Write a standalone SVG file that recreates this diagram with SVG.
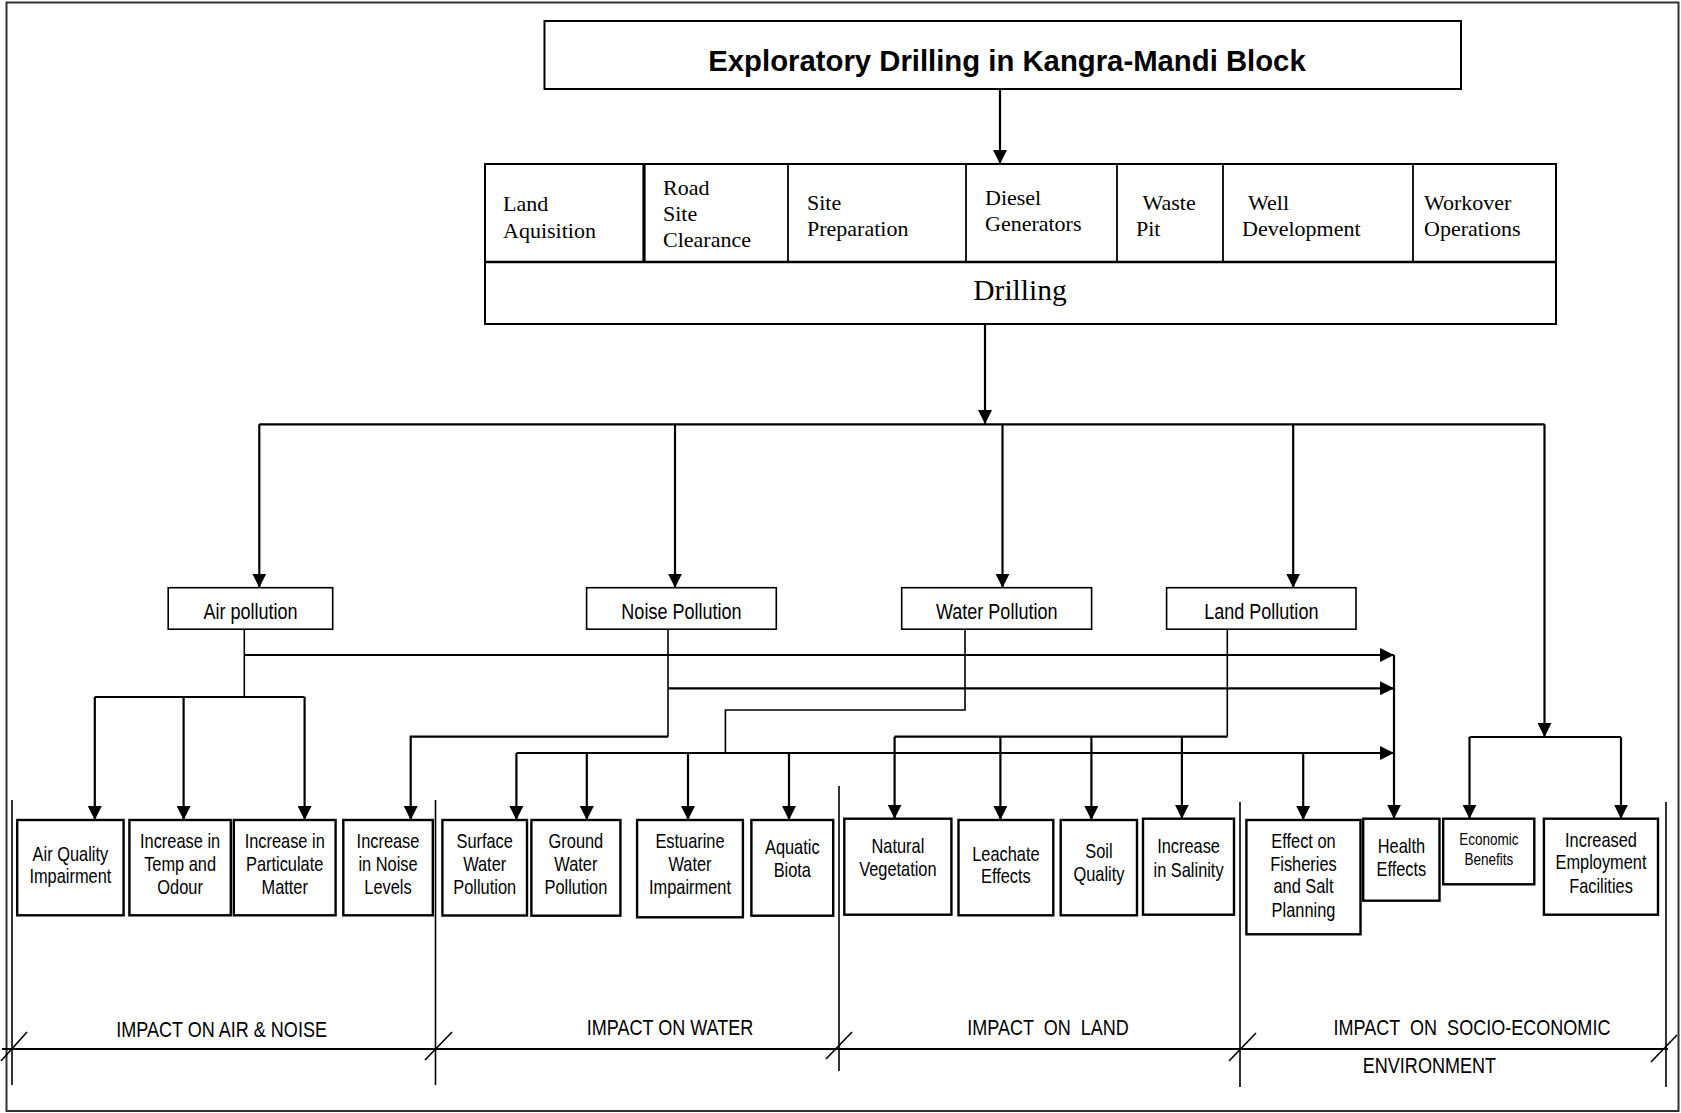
<svg xmlns="http://www.w3.org/2000/svg" width="1681" height="1113" viewBox="0 0 1681 1113">
  <style>
    .box { fill: #fff; stroke: #000; stroke-width: 2; }
    .pbox { fill: #fff; stroke: #000; stroke-width: 1.6; }
    .ibox { fill: #fff; stroke: #000; stroke-width: 2.4; }
    .sep { stroke: #000; stroke-width: 1.6; fill: none; }
    .wire { stroke: #000; stroke-width: 2.2; fill: none; }
    .stem { stroke: #000; stroke-width: 1.6; fill: none; }
    .arrow { marker-end: url(#head); }
    .title { font-family: "Liberation Sans", Arial, sans-serif; font-weight: bold; font-size: 29.3px; text-anchor: middle; }
    .serif { font-family: "Liberation Serif", "Times New Roman", serif; font-size: 22px; }
    .drill { font-family: "Liberation Serif", "Times New Roman", serif; font-size: 29.5px; text-anchor: middle; }
    .narrow { font-family: "Liberation Sans", Arial, sans-serif; text-anchor: middle; transform-box: fill-box; transform-origin: center; transform: scaleX(0.82); }
    .plab { font-size: 22px; }
    .ilab { font-size: 20px; }
    .small { font-size: 16.5px; }
    .sec { font-size: 22px; }
  </style>
  <defs>
    <marker id="head" markerUnits="userSpaceOnUse" markerWidth="14" markerHeight="14" refX="14" refY="7" orient="auto">
      <path d="M0,0 L14,7 L0,14 Z" fill="#000"/>
    </marker>
  </defs>

  <!-- page frame -->
  <rect x="6.5" y="2.5" width="1672" height="1108.5" fill="none" stroke="#333" stroke-width="2"/>

  <!-- source of the activities -->
  <g id="title">
    <rect class="box" x="544.5" y="21" width="916.5" height="68"/>
    <text class="title" x="1007" y="70.5">Exploratory Drilling in Kangra-Mandi Block</text>
  </g>

  <!-- drilling activity table -->
  <g id="activities">
    <rect class="box" x="485" y="164" width="1071" height="160"/>
    <line x1="485" y1="262" x2="1556" y2="262" stroke="#000" stroke-width="2.5"/>
    <line x1="644" y1="164" x2="644" y2="262" stroke="#000" stroke-width="3.2"/>
    <line x1="788" y1="164" x2="788" y2="262" stroke="#000" stroke-width="1.8"/>
    <line x1="966" y1="164" x2="966" y2="262" stroke="#000" stroke-width="1.8"/>
    <line x1="1117" y1="164" x2="1117" y2="262" stroke="#000" stroke-width="1.8"/>
    <line x1="1223" y1="164" x2="1223" y2="262" stroke="#000" stroke-width="1.8"/>
    <line x1="1413" y1="164" x2="1413" y2="262" stroke="#000" stroke-width="1.8"/>
  </g>
  <g id="land-aquisition"><text class="serif" x="503" y="211">Land</text><text class="serif" x="503" y="238">Aquisition</text></g>
  <g id="road-site-clearance"><text class="serif" x="663" y="195">Road</text><text class="serif" x="663" y="221">Site</text><text class="serif" x="663" y="247">Clearance</text></g>
  <g id="site-preparation"><text class="serif" x="807" y="210">Site</text><text class="serif" x="807" y="236">Preparation</text></g>
  <g id="diesel-generators"><text class="serif" x="985" y="205">Diesel</text><text class="serif" x="985" y="231">Generators</text></g>
  <g id="waste-pit"><text class="serif" x="1142.5" y="210">Waste</text><text class="serif" x="1136" y="236">Pit</text></g>
  <g id="well-development"><text class="serif" x="1248" y="210">Well</text><text class="serif" x="1242" y="236">Development</text></g>
  <g id="workover-operations"><text class="serif" x="1424" y="210">Workover</text><text class="serif" x="1424" y="236">Operations</text></g>
  <g id="drilling"><text class="drill" x="1020" y="300">Drilling</text></g>

  <!-- pollution categories -->
  <g id="air-pollution"><rect class="pbox" x="168.2" y="587.7" width="164.5" height="41.5"/><text class="narrow plab" x="250.5" y="619">Air pollution</text></g>
  <g id="noise-pollution"><rect class="pbox" x="586.6" y="587.7" width="189.7" height="41.5"/><text class="narrow plab" x="681.5" y="619">Noise Pollution</text></g>
  <g id="water-pollution"><rect class="pbox" x="901.7" y="587.7" width="189.9" height="41.5"/><text class="narrow plab" x="996.7" y="619">Water Pollution</text></g>
  <g id="land-pollution"><rect class="pbox" x="1166.6" y="587.7" width="189.4" height="41.5"/><text class="narrow plab" x="1261.3" y="619">Land Pollution</text></g>

  <!-- impact boxes: air and noise -->
  <g id="air-quality"><rect class="ibox" x="17.2" y="820" width="106.4" height="95.3"/><text class="narrow ilab"><tspan x="70.4" y="861">Air Quality</tspan><tspan x="70.4" y="883.5">Impairment</tspan></text></g>
  <g id="temp-odour"><rect class="ibox" x="129.4" y="820" width="101.4" height="95.3"/><text class="narrow ilab"><tspan x="180.1" y="848.3">Increase in</tspan><tspan x="180.1" y="871.5">Temp and</tspan><tspan x="180.1" y="894.3">Odour</tspan></text></g>
  <g id="particulate"><rect class="ibox" x="233.8" y="820" width="101.8" height="95.3"/><text class="narrow ilab"><tspan x="284.7" y="848.3">Increase in</tspan><tspan x="284.7" y="871.5">Particulate</tspan><tspan x="284.7" y="894.3">Matter</tspan></text></g>
  <g id="noise-levels"><rect class="ibox" x="343.3" y="820" width="89.5" height="95.3"/><text class="narrow ilab"><tspan x="388" y="848.3">Increase</tspan><tspan x="388" y="871.5">in Noise</tspan><tspan x="388" y="894.3">Levels</tspan></text></g>

  <!-- impact boxes: water -->
  <g id="surface-water"><rect class="ibox" x="442.4" y="820" width="84.6" height="95.5"/><text class="narrow ilab"><tspan x="484.7" y="848.3">Surface</tspan><tspan x="484.7" y="871.5">Water</tspan><tspan x="484.7" y="894.3">Pollution</tspan></text></g>
  <g id="ground-water"><rect class="ibox" x="531.4" y="820" width="89" height="95.7"/><text class="narrow ilab"><tspan x="575.9" y="848.3">Ground</tspan><tspan x="575.9" y="871.5">Water</tspan><tspan x="575.9" y="894.3">Pollution</tspan></text></g>
  <g id="estuarine-water"><rect class="ibox" x="637.1" y="820" width="105.8" height="97.3"/><text class="narrow ilab"><tspan x="690" y="848.3">Estuarine</tspan><tspan x="690" y="871">Water</tspan><tspan x="690" y="894.3">Impairment</tspan></text></g>
  <g id="aquatic-biota"><rect class="ibox" x="751.4" y="820" width="81.8" height="95.7"/><text class="narrow ilab"><tspan x="792.3" y="854">Aquatic</tspan><tspan x="792.3" y="876.7">Biota</tspan></text></g>

  <!-- impact boxes: land -->
  <g id="natural-vegetation"><rect class="ibox" x="844.3" y="818.7" width="107.1" height="96"/><text class="narrow ilab"><tspan x="897.9" y="853.3">Natural</tspan><tspan x="897.9" y="876">Vegetation</tspan></text></g>
  <g id="leachate-effects"><rect class="ibox" x="958.5" y="820" width="94.8" height="95.3"/><text class="narrow ilab"><tspan x="1005.9" y="861">Leachate</tspan><tspan x="1005.9" y="883.3">Effects</tspan></text></g>
  <g id="soil-quality"><rect class="ibox" x="1060.7" y="820" width="76.3" height="95.3"/><text class="narrow ilab"><tspan x="1098.9" y="858.3">Soil</tspan><tspan x="1098.9" y="881">Quality</tspan></text></g>
  <g id="salinity"><rect class="ibox" x="1143" y="818.7" width="91" height="96"/><text class="narrow ilab"><tspan x="1188.5" y="853.3">Increase</tspan><tspan x="1188.5" y="876.7">in Salinity</tspan></text></g>

  <!-- impact boxes: socio-economic -->
  <g id="fisheries"><rect class="ibox" x="1246.4" y="820" width="114.1" height="114.3"/><text class="narrow ilab"><tspan x="1303.5" y="848.3">Effect on</tspan><tspan x="1303.5" y="870.7">Fisheries</tspan><tspan x="1303.5" y="893.3">and Salt</tspan><tspan x="1303.5" y="916.7">Planning</tspan></text></g>
  <g id="health-effects"><rect class="ibox" x="1363.2" y="818.7" width="76.3" height="82"/><text class="narrow ilab"><tspan x="1401.4" y="853.3">Health</tspan><tspan x="1401.4" y="876">Effects</tspan></text></g>
  <g id="economic-benefits"><rect class="ibox" x="1443.2" y="818.7" width="91.1" height="65.6"/><text class="narrow small"><tspan x="1488.8" y="845">Economic</tspan><tspan x="1488.8" y="865">Benefits</tspan></text></g>
  <g id="employment"><rect class="ibox" x="1543.9" y="818.7" width="114.1" height="96"/><text class="narrow ilab"><tspan x="1601" y="846.7">Increased</tspan><tspan x="1601" y="869.3">Employment</tspan><tspan x="1601" y="892.7">Facilities</tspan></text></g>

  <!-- impact category scale -->
  <g id="impact-scale">
    <line class="sep" x1="12" y1="800" x2="12" y2="1085"/>
    <line class="sep" x1="435.5" y1="800" x2="435.5" y2="1085"/>
    <line class="sep" x1="839" y1="786" x2="839" y2="1071"/>
    <line class="sep" x1="1240" y1="802" x2="1240" y2="1087"/>
    <line class="sep" x1="1666" y1="802" x2="1666" y2="1087"/>
    <line x1="2" y1="1049" x2="1668" y2="1049" stroke="#000" stroke-width="2.2"/>
    <line class="sep" x1="1" y1="1061" x2="27" y2="1032"/>
    <line class="sep" x1="425" y1="1060" x2="452" y2="1032"/>
    <line class="sep" x1="826" y1="1059" x2="852" y2="1032"/>
    <line class="sep" x1="1229" y1="1061" x2="1256" y2="1033"/>
    <line class="sep" x1="1651" y1="1062" x2="1677" y2="1035"/>
    <text class="narrow sec" x="221.6" y="1036.7" xml:space="preserve">IMPACT ON AIR &amp; NOISE</text>
    <text class="narrow sec" x="670" y="1035" xml:space="preserve">IMPACT ON WATER</text>
    <text class="narrow sec" x="1048" y="1035" xml:space="preserve">IMPACT  ON  LAND</text>
    <text class="narrow sec" x="1472" y="1035" xml:space="preserve">IMPACT  ON  SOCIO-ECONOMIC</text>
    <text class="narrow sec" x="1429.4" y="1073.3">ENVIRONMENT</text>
  </g>

  <!-- connectors -->
  <g id="connectors">
    <path class="wire arrow" d="M1000,89 V164"/>
    <path class="wire arrow" d="M985,324 V424"/>
    <path class="wire" d="M259.3,424.3 H1544.5"/>
    <path class="wire arrow" d="M259.3,424.3 V587.7"/>
    <path class="wire arrow" d="M675,424.3 V587.7"/>
    <path class="wire arrow" d="M1002.5,424.3 V587.7"/>
    <path class="wire arrow" d="M1293.2,424.3 V587.7"/>
    <path class="wire arrow" d="M1544.5,424.3 V737"/>
    <path class="wire" d="M1469.5,737 H1621"/>
    <path class="wire arrow" d="M1469.5,737 V818.7"/>
    <path class="wire arrow" d="M1621,737 V818.7"/>

    <!-- air pollution -->
    <path class="stem" d="M244.3,629.2 V697"/>
    <path class="wire" d="M94.8,697 H304.6"/>
    <path class="wire arrow" d="M94.8,697 V820"/>
    <path class="wire arrow" d="M183.6,697 V820"/>
    <path class="wire arrow" d="M304.6,697 V820"/>
    <path class="wire arrow" d="M244.3,655 H1394"/>

    <!-- noise pollution -->
    <path class="stem" d="M668,629.2 V736.7"/>
    <path class="wire arrow" d="M668,736.7 H410.7 V820"/>
    <path class="wire arrow" d="M668,688.3 H1394"/>

    <!-- water pollution -->
    <path class="stem" d="M965,629.2 V710 H725.4 V753"/>
    <path class="wire arrow" d="M516.4,753 H1394"/>
    <path class="wire arrow" d="M516.4,753 V820"/>
    <path class="wire arrow" d="M586.8,753 V820"/>
    <path class="wire arrow" d="M688,753 V820"/>
    <path class="wire arrow" d="M789,753 V820"/>
    <path class="wire arrow" d="M1303.2,753 V820"/>

    <!-- land pollution -->
    <path class="stem" d="M1227.3,629.2 V736.7"/>
    <path class="wire" d="M1227.3,736.7 H894.6"/>
    <path class="wire arrow" d="M894.6,736.7 V818.7"/>
    <path class="wire arrow" d="M1000.4,736.7 V820"/>
    <path class="wire arrow" d="M1091.4,736.7 V820"/>
    <path class="wire arrow" d="M1181.9,736.7 V818.7"/>

    <!-- health effects collector -->
    <path class="wire arrow" d="M1394,655 V818.7"/>
  </g>
</svg>
